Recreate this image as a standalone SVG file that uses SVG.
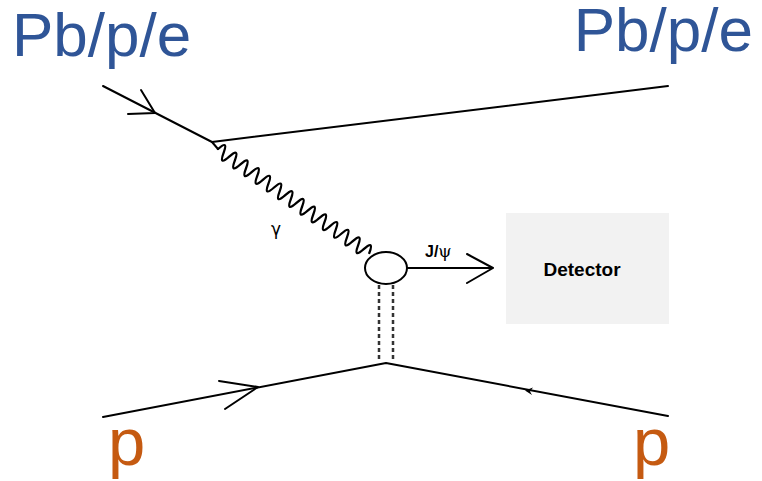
<svg xmlns="http://www.w3.org/2000/svg" width="762" height="481" viewBox="0 0 762 481">
<style>
.ln{stroke:#000;stroke-width:2;fill:none;stroke-linecap:round;stroke-linejoin:round}
.wave{stroke:#000;stroke-width:2.3;fill:none;stroke-linecap:round;stroke-linejoin:round}
.dash{stroke:#333;stroke-width:2.5;fill:none;stroke-dasharray:4 3}
.blue{font-family:"Liberation Sans",Arial,sans-serif;font-size:62px;fill:#2f5597}
.orange{font-family:"Liberation Sans",Arial,sans-serif;font-size:67px;fill:#c55a11}
.lbl{font-family:"Liberation Sans",Arial,sans-serif;font-weight:bold;fill:#000}
</style>
<rect width="762" height="481" fill="#fff"/>
<g id="labels">
<text class="blue" x="12" y="56">Pb/p/e</text>
<text class="blue" x="753" y="51" text-anchor="end">Pb/p/e</text>
<text class="orange" x="108" y="465">p</text>
<text class="orange" x="633" y="465">p</text>
</g>
<g id="connectors">
<path class="ln" d="M103,86 L212,142"/>
<path class="ln" d="M141,90 L155,113 L128,114"/>
<path class="ln" d="M212,142 L668,86"/>
<path class="ln" d="M212,142 L218,149"/>
<path class="wave" transform="translate(218,149) rotate(34.5)" d="M0,0 q3.4,-14 6.8,0 t6.8,0 t6.8,0 t6.8,0 t6.8,0 t6.8,0 t6.8,0 t6.8,0 t6.8,0 t6.8,0 t6.8,0 t6.8,0 t6.8,0 t6.8,0 t6.8,0 t6.8,0 t6.8,0 t6.8,0 t6.8,0 t6.8,0 t6.8,0 t6.8,0 t6.8,0 t6.8,0 t6.8,0 t6.8,0 t6.8,0"/>
<path class="ln" d="M407,268 L492,268"/>
<path class="ln" d="M467,254 L493,268 L467,283"/>
<path class="dash" d="M379,285 V362"/>
<path class="dash" d="M393,285 V362"/>
<path class="ln" d="M103,417 L386,363 L668,416"/>
<path class="ln" d="M219,381 L258,387 L225,409"/>
<path fill="#000" d="M525,390.5 L533,387.5 L530,391.5 L532,395 Z"/>
</g>
<g id="gamma">
<text x="276" y="235" text-anchor="middle" font-family="'DejaVu Sans',sans-serif" font-size="17" fill="#000">γ</text>
</g>
<g id="blob">
<ellipse cx="386" cy="268" rx="21" ry="16" fill="#fff" stroke="#000" stroke-width="2"/>
</g>
<g id="jpsi">
<text class="lbl" x="425" y="257" font-size="16">J/<tspan font-weight="normal" font-family="'DejaVu Serif',serif" font-size="17">ψ</tspan></text>
</g>
<g id="detector">
<rect x="506" y="213" width="163" height="111" fill="#f2f2f2"/>
<text class="lbl" x="582" y="276" font-size="19" text-anchor="middle">Detector</text>
</g>
</svg>
